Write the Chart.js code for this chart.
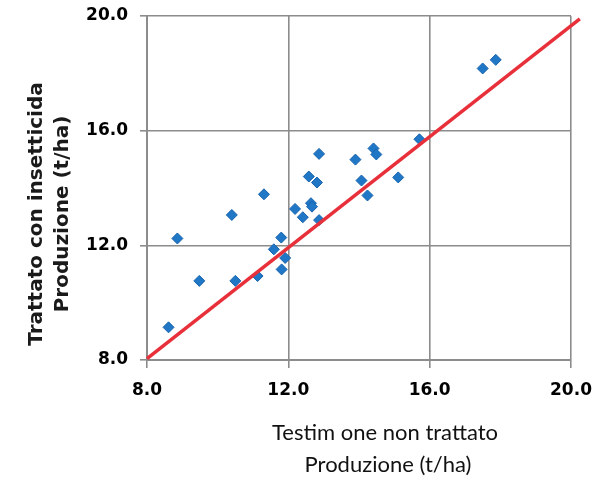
<!DOCTYPE html>
<html>
<head>
<meta charset="utf-8">
<script src="https://cdn.jsdelivr.net/npm/chart.js@4.4.1/dist/chart.umd.min.js"></script>
<style>
  html, body { margin: 0; padding: 0; background: #fff; }
  #wrap { width: 598px; height: 479px; position: relative; }
</style>
</head>
<body>
<div id="wrap"><canvas id="scatterChart"></canvas></div>
<script>
// Scatter data
const testimone = [8.61, 8.86, 9.48, 10.40, 10.50, 11.13, 11.31, 11.59, 11.80, 11.91, 11.81, 12.19, 12.41, 12.64, 12.67,
    12.58, 12.81, 12.87, 12.87, 13.90, 14.07, 14.24, 14.41, 14.49, 15.11, 15.71, 17.50, 17.87];
const trattato = [9.14, 12.24, 10.76, 13.06, 10.76, 10.93, 13.78, 11.86, 12.27, 11.56, 11.16, 13.27, 12.98, 13.47, 13.35,
    14.40, 14.19, 15.19, 12.88, 14.99, 14.26, 13.74, 15.38, 15.17, 14.37, 15.70, 18.17, 18.47];

// Trend line end points
const lineX = [8.0, 20.25];
const lineY = [8.05, 19.9];

// Axis ticks
const tickValues = [8, 12, 16, 20];

const yTitle = ['Trattato con insetticida', 'Produzione (t/ha)'];
const xTitle = ['Testim one non trattato', 'Produzione (t/ha)'];

const gridColor = '#8c8c8c';

// Draws the two axis titles, which sit a bit off centre in the original
const axisTitles = {
    id: 'axisTitles',
    afterDraw(chart) {
        const ctx = chart.ctx;
        ctx.save();
        ctx.fillStyle = '#1a1a1a';
        ctx.textAlign = 'center';
        ctx.textBaseline = 'middle';

        ctx.font = 'bold 20px "DejaVu Sans"';
        ctx.translate(0, 214);
        ctx.rotate(-Math.PI / 2);
        ctx.fillText(yTitle[0], 0, 37);
        ctx.fillText(yTitle[1], 0, 63);
        ctx.setTransform(1, 0, 0, 1, 0, 0);

        ctx.fillStyle = '#111';
        ctx.font = '22px Lato';
        ctx.fillText(xTitle[0], 385, 433);
        ctx.fillText(xTitle[1], 388, 465);
        ctx.restore();
    }
};

const ctx = document.getElementById('scatterChart').getContext('2d');
const scatterChart = new Chart(ctx, {
    type: 'scatter',
    data: {
        datasets: [
            {
                type: 'line',
                label: 'Trend',
                data: lineX.map((x, i) => ({ x: x, y: lineY[i] })),
                borderColor: '#e8303a',
                borderWidth: 3.5,
                pointRadius: 0,
                fill: false,
                clip: false,
                order: 0
            },
            {
                label: 'Produzione',
                data: testimone.map((x, i) => ({ x: x, y: trattato[i] })),
                pointStyle: 'rectRot',
                pointRadius: 5.5,
                backgroundColor: '#1f77c6',
                borderColor: '#1763ad',
                borderWidth: 1,
                order: 1
            }
        ]
    },
    options: {
        responsive: true,
        maintainAspectRatio: false,
        animation: false,
        layout: {
            padding: { top: 16, right: 27, left: 0, bottom: 0 }
        },
        plugins: {
            legend: { display: false },
            tooltip: { enabled: false }
        },
        scales: {
            x: {
                type: 'linear',
                min: 8,
                max: 20,
                afterBuildTicks: (scale) => { scale.ticks = tickValues.map(v => ({ value: v })); },
                afterFit: (scale) => {
                    scale.height = 119;
                    scale.paddingLeft = 0;
                    scale.paddingRight = 0;
                },
                grid: {
                    color: gridColor,
                    lineWidth: 1.6,
                    tickLength: 8,
                    drawTicks: true
                },
                border: { color: gridColor, width: 2 },
                ticks: {
                    color: '#000',
                    padding: 12,
                    maxRotation: 0,
                    font: { family: 'DejaVu Sans', size: 17, weight: 'bold' },
                    callback: (v) => Number(v).toFixed(1)
                }
            },
            y: {
                type: 'linear',
                min: 8,
                max: 20,
                afterBuildTicks: (scale) => { scale.ticks = tickValues.map(v => ({ value: v })); },
                afterFit: (scale) => {
                    scale.width = 147;
                    scale.paddingTop = 0;
                    scale.paddingBottom = 0;
                },
                grid: {
                    color: gridColor,
                    lineWidth: 1.6,
                    tickLength: 7,
                    drawTicks: true
                },
                border: { color: gridColor, width: 2 },
                ticks: {
                    color: '#000',
                    padding: 12,
                    font: { family: 'DejaVu Sans', size: 17, weight: 'bold' },
                    callback: (v) => Number(v).toFixed(1)
                }
            }
        }
    },
    plugins: [axisTitles]
});
</script>
</body>
</html>
